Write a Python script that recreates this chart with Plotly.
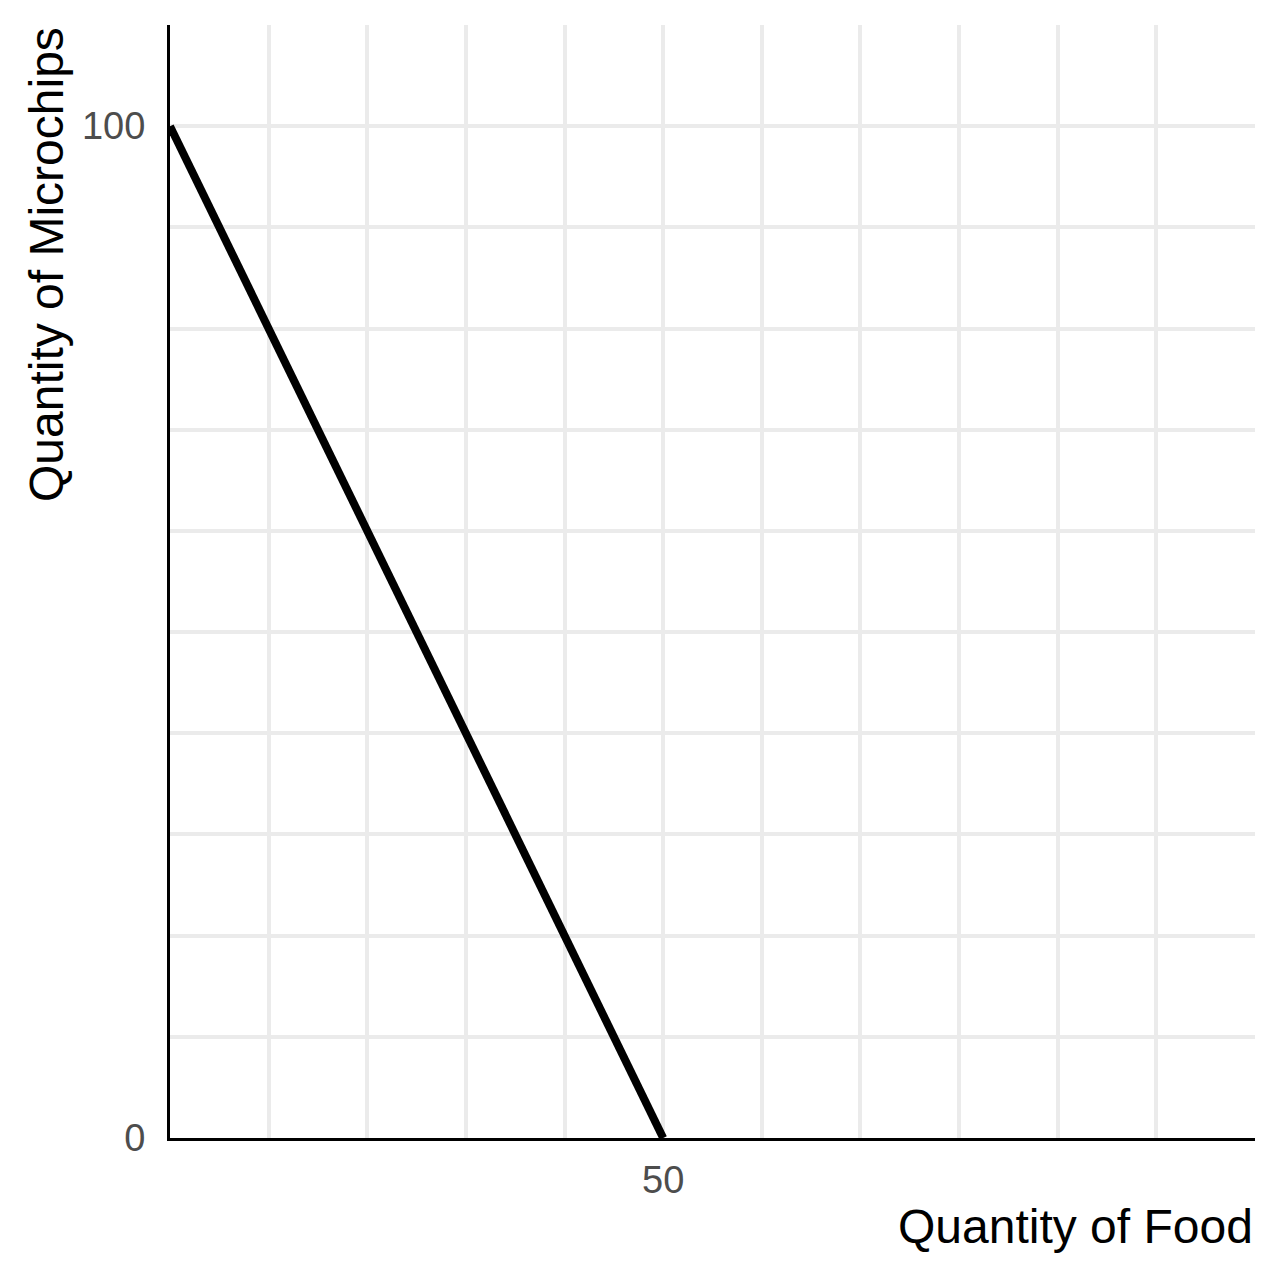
import plotly.graph_objects as go

food = [0, 50]
chips = [100, 0]
x_ticks = [50]
y_ticks = [0, 100]

fig = go.Figure(go.Scatter(x=food, y=chips, mode="lines",
                           line=dict(color="black", width=8), showlegend=False))
grid = dict(showgrid=True, gridcolor="#ebebeb", gridwidth=4)
minor = dict(dtick=10, tick0=0, showgrid=True, gridcolor="#ebebeb", gridwidth=4)
fig.update_xaxes(range=[0, 110], tickvals=x_ticks, ticks="", zeroline=False,
                 showline=True, linecolor="black", linewidth=3, **grid, minor=minor,
                 ticklabelstandoff=6,
                 tickfont=dict(size=38, color="#4d4d4d"))
fig.update_yaxes(range=[0, 110], tickvals=y_ticks, ticks="", zeroline=False,
                 showline=True, linecolor="black", linewidth=3, **grid, minor=minor,
                 ticklabelstandoff=14,
                 tickfont=dict(size=38, color="#4d4d4d"))
fig.update_layout(
    width=1280, height=1280, plot_bgcolor="white", paper_bgcolor="white",
    margin=dict(l=162, r=33, t=17, b=150),
    font=dict(family="Liberation Sans, Arial, sans-serif"),
    annotations=[
        dict(text="Quantity of Food", x=1, y=0, xref="paper", yref="paper",
             xanchor="right", yanchor="top", yshift=-60, showarrow=False,
             font=dict(size=48, color="black")),
        dict(text="Quantity of Microchips", x=0, y=1, xref="paper", yref="paper",
             xanchor="right", yanchor="top", xshift=-95, textangle=-90, showarrow=False,
             font=dict(size=48, color="black")),
    ],
)
fig.write_html("out.html")
